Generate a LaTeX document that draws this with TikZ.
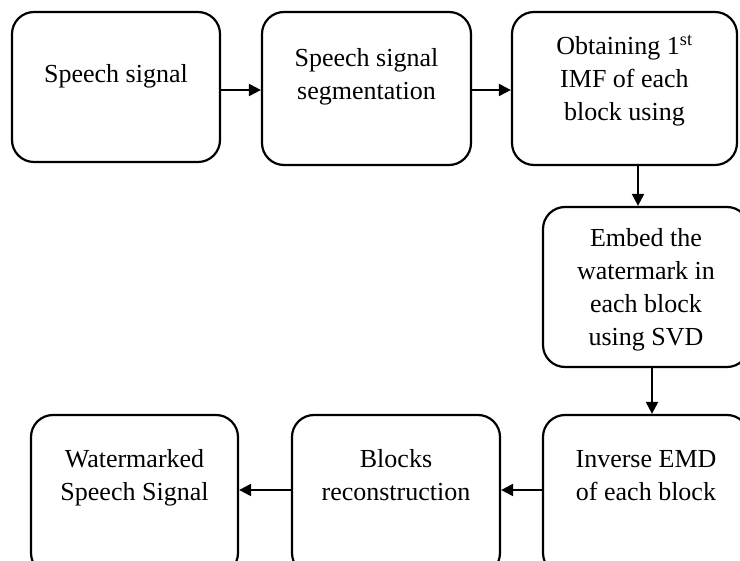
\documentclass[tikz,border=0pt]{standalone}
\usepackage{fontspec}
\setmainfont{Liberation Serif}
\usetikzlibrary{arrows.meta}
\newcommand\mylines[1]{\vtop{\baselineskip=33pt\lineskiplimit=0pt\halign{\hfil##\hfil\cr #1\crcr}}}
\begin{document}
\begin{tikzpicture}[x=1pt,y=-1pt,
  stepbox/.style={draw=black, line width=2.2pt, rounded corners=22pt, inner sep=0pt},
  txt/.style={anchor=base, inner sep=0pt, font=\fontsize{26}{33}\selectfont},
  arr/.style={line width=2pt, -{Triangle[length=12pt,width=12pt]}}]
\useasboundingbox (0,0) rectangle (740,561);
\clip (0,0) rectangle (740,561);
% boxes
\node[minimum width=208pt, minimum height=150pt, stepbox] (b1) at (116,87) {};
\node[minimum width=209pt, minimum height=153pt, stepbox] (b2) at (366.5,88.5) {};
\node[minimum width=225pt, minimum height=153pt, stepbox] (b3) at (624.5,88.5) {};
\node[minimum width=206pt, minimum height=160pt, stepbox] (b4) at (646,287) {};
\node[minimum width=206pt, minimum height=160pt, stepbox] (b5) at (646,495) {};
\node[minimum width=208pt, minimum height=160pt, stepbox] (b6) at (396,495) {};
\node[minimum width=207pt, minimum height=160pt, stepbox] (b7) at (134.5,495) {};
% texts
\node[txt] (t1) at (116,83) {\mylines{Speech signal}};
\node[txt] (t2) at (366.5,67) {\mylines{Speech signal\cr segmentation}};
\node[txt] (t3) at (624.5,55) {\mylines{Obtaining 1\textsuperscript{st}\cr IMF of each\cr block using}};
\node[txt] (t4) at (646,247) {\mylines{Embed the\cr watermark in\cr each block\cr using SVD}};
\node[txt] (t5) at (646,468) {\mylines{Inverse EMD\cr of each block}};
\node[txt] (t6) at (396,468) {\mylines{Blocks\cr reconstruction}};
\node[txt] (t7) at (134.5,468) {\mylines{Watermarked\cr Speech Signal}};
% connectors
\coordinate (r1) at (0,90);
\coordinate (r2) at (0,490);
\coordinate (c1) at (638,0);
\coordinate (c2) at (652,0);
\draw[arr] (b1.east |- r1) -- (b2.west |- r1);
\draw[arr] (b2.east |- r1) -- (b3.west |- r1);
\draw[arr] (b3.south -| c1) -- (b4.north -| c1);
\draw[arr] (b4.south -| c2) -- (b5.north -| c2);
\draw[arr] (b5.west |- r2) -- (b6.east |- r2);
\draw[arr] (b6.west |- r2) -- (b7.east |- r2);
\end{tikzpicture}
\end{document}
